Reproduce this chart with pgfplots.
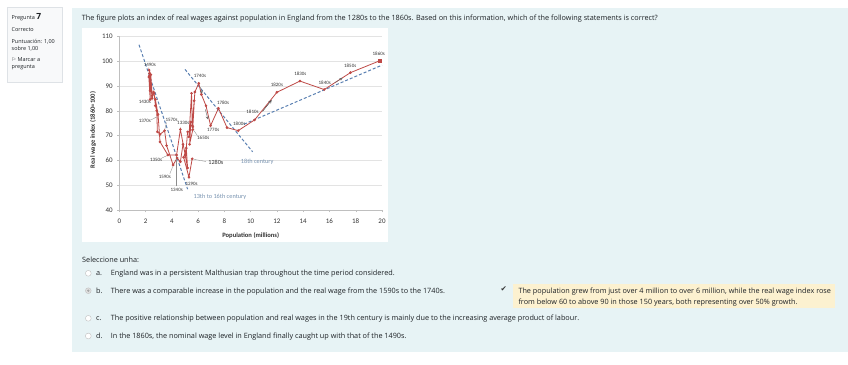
\documentclass[border=0pt]{standalone}
\usepackage{fontspec}
\usepackage{pgfplots}
\usepackage{pgfplotstable}
\pgfplotsset{compat=1.18}
\setmainfont{Open Sans}
\newfontfamily\chartfont{Carlito}
\newfontfamily\symfont{DejaVu Sans}
\definecolor{qbg}{HTML}{E7F3F5}
\definecolor{infobg}{HTML}{F8F9FA}
\definecolor{infoborder}{HTML}{DEE2E6}
\definecolor{fbbg}{HTML}{FCF1D0}
\definecolor{txt}{HTML}{1D2125}
\definecolor{wline}{HTML}{BF4A47}
\definecolor{trend}{HTML}{5A80B2}
\definecolor{annot}{HTML}{7893B0}
\definecolor{lbl}{HTML}{333333}
\definecolor{axisc}{HTML}{BFBFBF}
\definecolor{gridc}{HTML}{E3E3E3}
\tikzset{lb/.style={font=\chartfont\fontsize{5}{6}\selectfont, text=lbl, inner sep=0}}

% decade  population(millions)  real wage index
\pgfplotstableread{
x y
5.55 60.7
5.30 53.3
4.90 61.3
5.10 65.0
5.20 57.0
4.65 72.5
4.36 62.2
3.70 62.2
3.10 67.5
2.95 78.5
2.75 84.5
2.60 87.5
2.50 85.0
2.40 90.0
2.35 88.0
2.35 84.5
2.25 93.5
2.30 95.0
2.40 91.0
2.30 94.0
2.40 88.0
2.27 96.3
2.40 94.5
2.50 86.0
2.65 87.0
2.75 82.0
2.85 80.0
2.90 71.5
3.10 70.5
3.45 72.0
3.60 66.0
4.10 58.2
4.40 61.0
4.65 59.5
4.85 66.5
5.05 62.0
5.20 71.5
5.60 72.5
5.35 66.5
5.45 75.5
5.30 69.5
5.50 87.0
5.55 74.0
5.70 84.0
5.60 73.5
5.75 87.5
6.05 91.0
6.25 86.5
6.60 82.0
6.95 74.0
7.55 81.0
8.20 73.2
9.05 72.0
10.30 76.3
12.00 87.4
13.75 91.9
15.60 88.5
17.60 95.3
19.80 100.0
}\wages

\begin{document}
\begin{tikzpicture}
\begin{scope}[x=1bp,y=-1bp]
\fill[white, use as bounding box] (0,0) rectangle (848,364);
\fill[qbg] (72,8) rectangle (848,352);
\filldraw[fill=infobg,draw=infoborder,line width=0.4bp] (7,7.5) rectangle (62,82);
\begin{scope}[every node/.style={anchor=base west, inner sep=0, text=txt, font=\fontsize{5.5}{6}\selectfont}]
\node at (11.5,19.8) {Pregunta \textbf{\fontsize{8.5}{9}\selectfont 7}};
\node at (11.5,31.2) {Correcto};
\node at (11.5,43.6) {Puntuación: 1,00};
\node at (11.5,50.4) {sobre 1,00};
\node at (11.5,61.9) {{\symfont\fontsize{5}{5}\selectfont ⚐}\ Marcar a};
\node at (11.5,68.7) {pregunta};
\end{scope}
\begin{scope}[every node/.style={anchor=base west, inner sep=0, text=txt, font=\fontsize{7.3}{8}\selectfont}]
\node at (81.7,20.8) {The figure plots an index of real wages against population in England from the 1280s to the 1860s. Based on this information, which of the following statements is correct?};
\node at (82,262.3) {Seleccione unha:};
\node at (96,275.8) {a.};
\node at (110.7,275.8) {England was in a persistent Malthusian trap throughout the time period considered.};
\node at (96,293.3) {b.};
\node at (110.7,293.3) {There was a comparable increase in the population and the real wage from the 1590s to the 1740s.};
\node at (96,320.8) {c.};
\node at (110.7,320.8) {The positive relationship between population and real wages in the 19th century is mainly due to the increasing average product of labour.};
\node at (96,338.5) {d.};
\node at (110.7,338.5) {In the 1860s, the nominal wage level in England finally caught up with that of the 1490s.};
\fill[fbbg] (513.3,284) rectangle (835,307.5);
\node at (518.3,293.2) {The population grew from just over 4 million to over 6 million, while the real wage index rose};
\node at (518.3,304.8) {from below 60 to above 90 in those 150 years, both representing over 50\% growth.};
\node[font=\symfont\fontsize{7.5}{8}\selectfont, text=black!80] at (500.3,291) {✔};
\end{scope}
\foreach \yy in {273.3,318.3,336} {\filldraw[fill=white, draw=black!25, line width=0.4bp] (88.3,\yy) circle (2.9);}
\filldraw[fill=black!12, draw=black!25, line width=0.4bp] (88.3,290.7) circle (2.9);
\fill[black!35] (88.3,290.7) circle (1.3);
\fill[white] (82,28) rectangle (388,242);
\node[rotate=90, font=\chartfont\bfseries\fontsize{6.6}{7}\selectfont, text=lbl] at (93,130) {Real wage index (1860=100)};
\node[font=\chartfont\bfseries\fontsize{6.6}{7}\selectfont, text=lbl] at (250.7,236) {Population (millions)};
\end{scope}
\begin{axis}[
  at={(119.3bp,-210.3bp)}, anchor=south west,
  scale only axis, width=262.7bp, height=174.3bp,
  xmin=0, xmax=20, ymin=40, ymax=110,
  xtick={0,2,...,20}, ytick={40,50,...,110},
  axis x line=bottom, axis y line=left,
  axis line style={-, draw=axisc, line width=0.5bp},
  ymajorgrids, grid style={draw=gridc, line width=0.4bp},
  tick align=outside, major tick length=2bp,
  tick style={draw=axisc, line width=0.4bp},
  ticklabel style={font=\chartfont\fontsize{7}{8}\selectfont, text=lbl},
  /pgf/number format/assume math mode=true,
  xticklabel style={yshift=-3bp},
  yticklabel style={xshift=-1bp},
  clip=false,
]
\addplot[trend, line width=1bp, dash pattern=on 3bp off 2bp] coordinates {(1.5,106.5) (5.2,48.5)};
\addplot[trend, line width=1bp, dash pattern=on 3bp off 2bp] coordinates {(5.0,96.6) (10.15,63.5)};
\addplot[trend, line width=1bp, dash pattern=on 3bp off 2bp] coordinates {(9.5,74.6) (20,98.3)};
\addplot[wline, line width=0.8bp, mark=*, mark size=0.9bp, mark options={fill=wline}] table {\wages};
\addplot[wline, only marks, mark=square*, mark size=1.4bp] coordinates {(19.8,100)};
% leader lines
\draw[black!45, line width=0.35bp] (axis cs:6.6,59.6) -- (axis cs:5.65,60.5);
\draw[black!45, line width=0.35bp] (axis cs:3.2,60.9) -- (axis cs:3.65,62);
\draw[black!45, line width=0.35bp] (axis cs:2.4,76.3) -- (axis cs:2.85,77.5);
\draw[black!45, line width=0.35bp] (axis cs:3.6,75.3) -- (axis cs:3.45,72.3);
\draw[black!45, line width=0.35bp] (axis cs:3.85,54.7) -- (axis cs:4.07,57.6);
\draw[black!45, line width=0.35bp] (axis cs:4.36,49.6) -- (axis cs:4.36,61.9);
\draw[black!45, line width=0.35bp] (axis cs:5.95,70) -- (axis cs:5.65,72.2);
% direction arrows
\draw[black!60, line width=0.4bp, -stealth] (axis cs:6.55,80.5) -- (axis cs:6.75,76.5);
\draw[black!60, line width=0.4bp, -stealth] (axis cs:6.18,89.5) -- (axis cs:6.3,86.8);
\draw[black!70, line width=0.5bp, -stealth] (axis cs:10.9,79.7) -- (axis cs:11.6,84.3);
\draw[black!60, line width=0.4bp, -stealth] (axis cs:16.4,91.2) -- (axis cs:17.0,93.2);
% labels
\node[lb] at (axis cs:2.33,98.5) {1490s};
\node[lb] at (axis cs:1.95,83.6) {1430s};
\node[lb] at (axis cs:1.95,76) {1370s};
\node[lb] at (axis cs:3.98,76.3) {1570s};
\node[lb] at (axis cs:4.87,75) {1330s};
\node[lb] at (axis cs:6.39,69.3) {1650s};
\node[lb] at (axis cs:2.8,60.3) {1350s};
\node[lb, font=\chartfont\fontsize{6.2}{7}\selectfont] at (axis cs:7.35,59.4) {1280s};
\node[lb] at (axis cs:3.47,53.3) {1590s};
\node[lb] at (axis cs:4.37,48.0) {1340s};
\node[lb] at (axis cs:5.5,50.6) {1290s};
\node[lb] at (axis cs:6.14,93.9) {1740s};
\node[lb] at (axis cs:7.9,83) {1780s};
\node[lb] at (axis cs:7.15,72.2) {1770s};
\node[lb] at (axis cs:10.14,79.6) {1810s};
\node[lb] at (axis cs:9.13,74.9) {1800s};
\node[lb] at (axis cs:12.0,90.3) {1820s};
\node[lb] at (axis cs:13.78,94.7) {1830s};
\node[lb] at (axis cs:15.64,91.1) {1840s};
\node[lb] at (axis cs:17.58,98) {1850s};
\node[lb] at (axis cs:19.75,103) {1860s};
\node[font=\chartfont\fontsize{6.3}{7}\selectfont, text=annot] at (axis cs:10.5,59.5) {18th century};
\node[font=\chartfont\fontsize{6.3}{7}\selectfont, text=annot] at (axis cs:7.66,45.3) {13th to 16th century};
\end{axis}
\end{tikzpicture}
\end{document}
